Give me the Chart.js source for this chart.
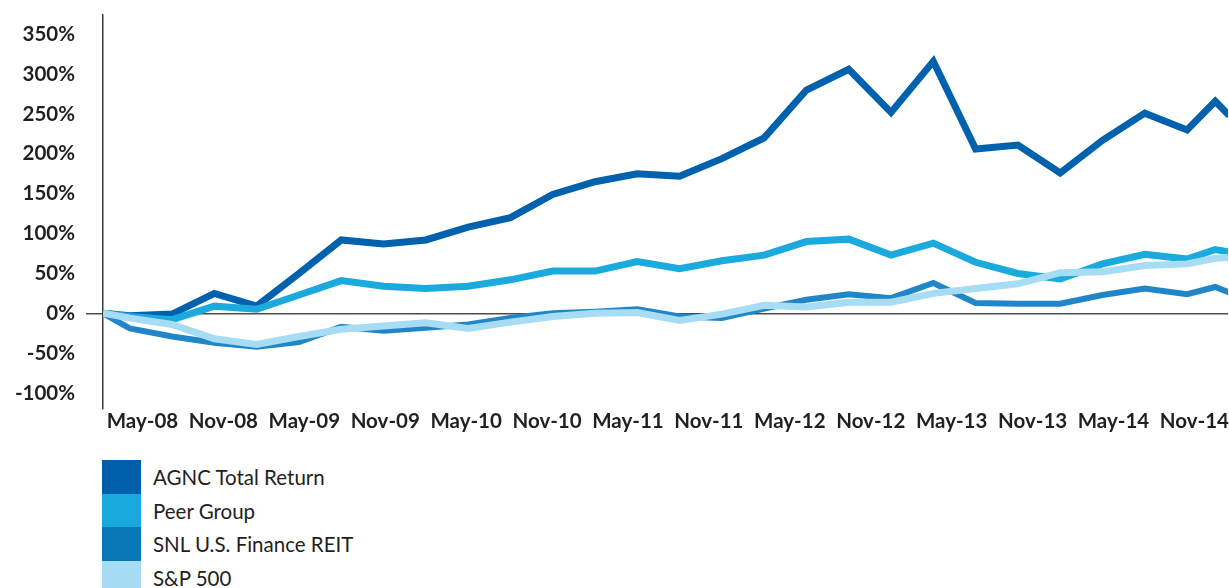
<!DOCTYPE html>
<html>
<head>
<meta charset="utf-8">
<script src="https://cdn.jsdelivr.net/npm/chart.js@4.4.0/dist/chart.umd.min.js"></script>
<style>
  body { margin: 0; background: #fff; }
  #wrap { position: relative; width: 1229px; height: 449px; margin-top: -9px; }
  #legend { position: absolute; left: 102px; top: 460px; font-family: Lato, sans-serif; font-size: 20.5px; color: #231f20; }
  .row { display: flex; align-items: center; height: 33.7px; }
  .sw { width: 39px; height: 100%; margin-right: 12px; }
</style>
</head>
<body>
<div id="wrap"><canvas id="tsrChart"></canvas></div>
<div id="legend"></div>
<script>
// x position of each data point, in months after end of Jun-08
const pointMonths = [-1.9, 0, 3, 6, 9, 12, 15, 18, 21, 24, 27, 30, 33, 36, 39, 42, 45, 48, 51, 54, 57, 60, 63, 66, 69, 72, 75, 77, 78];
const tickLabels = ['May-08', 'Nov-08', 'May-09', 'Nov-09', 'May-10', 'Nov-10', 'May-11', 'Nov-11', 'May-12', 'Nov-12', 'May-13', 'Nov-13', 'May-14', 'Nov-14'];
const yTicks = [-100, -50, 0, 50, 100, 150, 200, 250, 300, 350];

const seriesNames = ['AGNC Total Return', 'Peer Group', 'SNL U.S. Finance REIT', 'S&P 500'];
const agnc = [0, -3, -1, 25, 9, 50, 92, 87, 92, 108, 120, 149, 165, 175, 172, 194, 220, 280, 306, 252, 316, 206, 211, 176, 217, 251, 230, 266, 248];
const peer = [0, -4, -8, 9, 5, 23, 41, 34, 31, 34, 42, 53, 53, 65, 56, 66, 73, 90, 93, 73, 88, 64, 50, 43, 62, 74, 68, 80, 77];
const snl = [0, -19, -29, -37, -42, -36, -17, -22, -18, -14, -6, 0, 2, 5, -4, -6, 6, 17, 24, 19, 38, 13, 12, 12, 23, 31, 24, 33, 26];
const sp500 = [0, -6, -14, -32, -39, -29, -20, -16, -12, -19, -11, -4, 0, 1, -9, -1, 10, 8, 14, 14, 25, 31, 37, 51, 52, 60, 62, 69, 70];

const lineColors = ['#0061ad', '#1baade', '#2186c7', '#a6dcf4'];
const legendColors = ['#005fab', '#1aa9de', '#0877b6', '#a6dcf4'];

const textColor = '#231f20';
const firstTick = 0.9, tickStep = 5.74;

document.addEventListener('DOMContentLoaded', function() {
    const ctx = document.getElementById('tsrChart');

    const series = [agnc, peer, snl, sp500];
    const datasets = series.map(function(vals, i) {
        return {
            label: seriesNames[i],
            data: vals.map(function(v, j) { return { x: pointMonths[j], y: v }; }),
            borderColor: lineColors[i],
            borderWidth: i === 2 ? 6 : 7,
            pointRadius: 0,
            tension: 0,
            borderJoinStyle: 'miter',
            order: 3 - i
        };
    });

    new Chart(ctx, {
        type: 'line',
        data: { datasets: datasets },
        options: {
            responsive: true,
            maintainAspectRatio: false,
            animation: false,
            layout: { padding: { top: 4, right: 0, bottom: 0, left: 0 } },
            plugins: {
                legend: { display: false },
                tooltip: { enabled: false }
            },
            scales: {
                x: {
                    type: 'linear',
                    min: -1.9,
                    max: 77.9,
                    border: { display: false },
                    grid: { display: false, drawTicks: false },
                    afterBuildTicks: function(axis) {
                        axis.ticks = tickLabels.map(function(l, i) { return { value: firstTick + i * tickStep }; });
                    },
                    afterFit: function(axis) { axis.height = 31; },
                    ticks: {
                        autoSkip: false,
                        maxRotation: 0,
                        padding: 0,
                        color: textColor,
                        font: { family: 'Lato', size: 20.5, weight: 'bold' },
                        callback: function(v, i) { return tickLabels[i]; }
                    }
                },
                y: {
                    min: -120,
                    max: 375,
                    border: { display: true, color: '#3a3a3a', width: 1.5 },
                    grid: {
                        color: function(c) { return c.tick && c.tick.value === 0 ? '#4d4d4d' : 'rgba(0,0,0,0)'; },
                        lineWidth: 1.5,
                        tickLength: 17
                    },
                    afterBuildTicks: function(axis) {
                        axis.ticks = yTicks.map(function(v) { return { value: v }; });
                    },
                    afterFit: function(axis) { axis.width = 103; },
                    ticks: {
                        padding: 11,
                        color: textColor,
                        font: { family: 'Lato', size: 20.5, weight: 'bold' },
                        callback: function(v) { return v + '%'; }
                    }
                }
            }
        }
    });

    // legend below the chart
    const legend = document.getElementById('legend');
    seriesNames.forEach(function(name, i) {
        const row = document.createElement('div');
        row.className = 'row';
        const sw = document.createElement('div');
        sw.className = 'sw';
        sw.style.background = legendColors[i];
        const txt = document.createElement('span');
        txt.textContent = name;
        row.appendChild(sw);
        row.appendChild(txt);
        legend.appendChild(row);
    });
});
</script>
</body>
</html>
